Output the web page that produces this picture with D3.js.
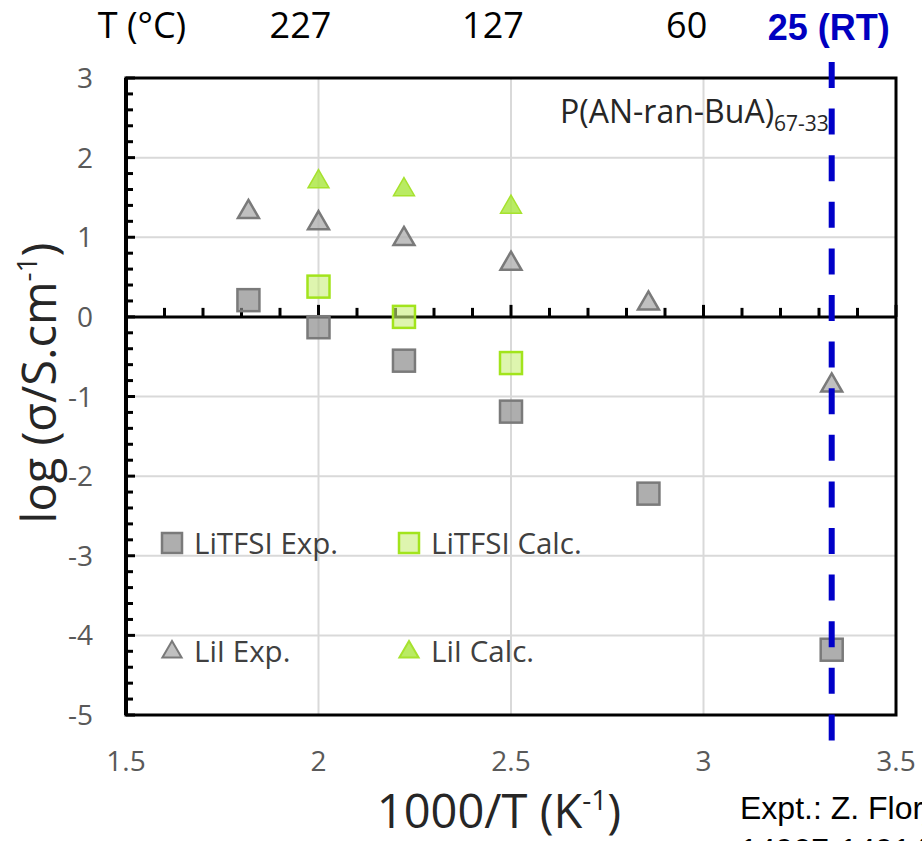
<!DOCTYPE html>
<html>
<head>
<meta charset="utf-8">
<script src="https://cdn.jsdelivr.net/npm/d3@7"></script>
<style>
  html, body { margin: 0; padding: 0; background: #fff; }
  svg { display: block; }
</style>
</head>
<body>
<script>
// ---------- data ----------
const invT = [1.818, 2.0, 2.222, 2.5, 2.857, 3.333];
const litfsiExp = [0.21, -0.13, -0.55, -1.19, -2.22, -4.18];
const litfsiCalcX = [2.0, 2.222, 2.5];
const litfsiCalc = [0.38, 0.0, -0.58];
const liiExp = [1.33, 1.19, 0.99, 0.68, 0.18, -0.85];
const liiCalcX = [2.0, 2.222, 2.5];
const liiCalc = [1.71, 1.61, 1.39];
const xTicks = [1.5, 2, 2.5, 3, 3.5];
const yTicks = [3, 2, 1, 0, -1, -2, -3, -4, -5];
const tempLabels = [227, 127, 60];
const rtInvT = 3.333;

const W = 922, H = 841;
const svg = d3.select("body").append("svg").attr("width", W).attr("height", H);

const x = d3.scaleLinear().domain([1.5, 3.5]).range([126, 896]);
const y = d3.scaleLinear().domain([-5, 3]).range([715, 78]);
const tickFont = "'Open Sans', sans-serif";

// gridlines
svg.append("g").selectAll("line").data(yTicks.filter(v => v !== 0 && v !== 3 && v !== -5))
  .join("line")
  .attr("x1", x(1.5)).attr("x2", x(3.5))
  .attr("y1", d => y(d)).attr("y2", d => y(d))
  .attr("stroke", "#d9d9d9").attr("stroke-width", 2);
svg.append("g").selectAll("line").data([2, 2.5, 3])
  .join("line")
  .attr("x1", d => x(d)).attr("x2", d => x(d))
  .attr("y1", y(3)).attr("y2", y(-5))
  .attr("stroke", "#d9d9d9").attr("stroke-width", 2);

// frame
svg.append("rect")
  .attr("x", x(1.5)).attr("y", y(3))
  .attr("width", x(3.5) - x(1.5)).attr("height", y(-5) - y(3))
  .attr("fill", "none").attr("stroke", "#000").attr("stroke-width", 3);

// y axis (left, inside ticks)
const yMinor = d3.range(-5, 3.001, 0.2).map(v => Math.round(v * 10) / 10);
svg.append("g").selectAll("line").data(yMinor).join("line")
  .attr("x1", x(1.5)).attr("x2", d => x(1.5) + (Number.isInteger(d) ? 9 : 7))
  .attr("y1", d => y(d)).attr("y2", d => y(d))
  .attr("stroke", "#000").attr("stroke-width", 3);
svg.append("line").attr("x1", x(1.5)).attr("x2", x(1.5)).attr("y1", y(3)).attr("y2", y(-5))
  .attr("stroke", "#000").attr("stroke-width", 4);

// x axis at y = 0
const xMinor = d3.range(1.5, 3.501, 0.1).map(v => Math.round(v * 10) / 10);
svg.append("g").selectAll("line").data(xMinor).join("line")
  .attr("x1", d => x(d)).attr("x2", d => x(d))
  .attr("y1", y(0)).attr("y2", d => y(0) - ((Math.round(d * 10) % 5 === 0) ? 12 : 9))
  .attr("stroke", "#000").attr("stroke-width", 3);
svg.append("line").attr("x1", x(1.5)).attr("x2", x(3.5)).attr("y1", y(0)).attr("y2", y(0))
  .attr("stroke", "#000").attr("stroke-width", 3);

// tick labels
svg.append("g").selectAll("text").data(yTicks).join("text")
  .attr("x", 93).attr("y", d => y(d) + 10)
  .attr("text-anchor", "end").attr("font-family", tickFont).attr("font-size", 28)
  .attr("fill", "#595959").text(d => d);
svg.append("g").selectAll("text").data(xTicks).join("text")
  .attr("x", d => x(d)).attr("y", 771)
  .attr("text-anchor", "middle").attr("font-family", tickFont).attr("font-size", 28)
  .attr("fill", "#595959").text(d => d);

// axis titles
const xt = svg.append("text").attr("x", 499).attr("y", 828).attr("text-anchor", "middle")
  .attr("font-family", tickFont).attr("font-size", 47).attr("fill", "#262626");
xt.append("tspan").text("1000/T (K");
xt.append("tspan").attr("font-size", 28).attr("dy", -18).text("-1");
xt.append("tspan").attr("dy", 18).text(")");

const yt = svg.append("text").attr("transform", "translate(56,383) rotate(-90)")
  .attr("text-anchor", "middle").attr("font-family", tickFont).attr("font-size", 47).attr("fill", "#262626");
yt.append("tspan").text("log (σ/S.cm");
yt.append("tspan").attr("font-size", 28).attr("dy", -19).text("-1");
yt.append("tspan").attr("dy", 19).text(")");

// top temperature labels
svg.append("text").attr("x", 142).attr("y", 38).attr("text-anchor", "middle")
  .attr("font-family", tickFont).attr("font-size", 36).attr("fill", "#000").text("T (°C)");
svg.append("g").selectAll("text").data(tempLabels).join("text")
  .attr("x", d => x(1000 / (d + 273)) - 18).attr("y", 38).attr("text-anchor", "middle")
  .attr("font-family", tickFont).attr("font-size", 36).attr("fill", "#000").text(d => d);
svg.append("text").attr("x", x(rtInvT) - 3).attr("y", 40).attr("text-anchor", "middle")
  .attr("font-family", "'Liberation Sans', Arial, sans-serif").attr("font-weight", "bold")
  .attr("font-size", 36).attr("fill", "#0000c0").text("25 (RT)");

// polymer annotation
const pa = svg.append("text").attr("x", 560).attr("y", 123)
  .attr("font-family", tickFont).attr("font-size", 32).attr("fill", "#262626");
pa.append("tspan").text("P(AN-ran-BuA)");
pa.append("tspan").attr("font-size", 21).attr("dy", 8).text("67-33");

// bottom reference note
svg.append("text").attr("x", 740).attr("y", 819)
  .attr("font-family", "'Liberation Sans', Arial, sans-serif").attr("font-size", 32).attr("fill", "#000")
  .text("Expt.: Z. Florjańczyk et al.,");
svg.append("text").attr("x", 740).attr("y", 861)
  .attr("font-family", "'Liberation Sans', Arial, sans-serif").attr("font-size", 32).attr("fill", "#000")
  .text("14907-14914");

// markers
const S = 22;
function squares(xs, ys, fill, fillOp, stroke) {
  svg.append("g").selectAll("rect").data(xs.map((d, i) => [d, ys[i]])).join("rect")
    .attr("x", d => x(d[0]) - S / 2).attr("y", d => y(d[1]) - S / 2)
    .attr("width", S).attr("height", S)
    .attr("fill", fill).attr("fill-opacity", fillOp)
    .attr("stroke", stroke).attr("stroke-width", 2.5);
}
const tri = d3.symbol().type(d3.symbolTriangle).size(190);
function triangles(xs, ys, fill, fillOp, stroke, sw) {
  svg.append("g").selectAll("path").data(xs.map((d, i) => [d, ys[i]])).join("path")
    .attr("d", tri)
    .attr("transform", d => `translate(${x(d[0])},${y(d[1]) + 1})`)
    .attr("fill", fill).attr("fill-opacity", fillOp)
    .attr("stroke", stroke).attr("stroke-width", sw).attr("stroke-linejoin", "miter");
}
squares(invT, litfsiExp, "#8c8c8c", 0.7, "#7a7a7a");
squares(litfsiCalcX, litfsiCalc, "#c8ef7a", 0.6, "#a2e41c");
triangles(invT, liiExp, "#b0b0b0", 0.8, "#7a7a7a", 2.5);
triangles(liiCalcX, liiCalc, "#a8e63c", 0.8, "#a6e22e", 1.5);

// legend
const lg = svg.append("g").attr("font-family", tickFont).attr("font-size", 29.5).attr("fill", "#404040");
const legItems = [
  {lx: 162, ly: 543, kind: "sq", fill: "#8c8c8c", op: 0.7, stroke: "#7a7a7a", label: "LiTFSI Exp."},
  {lx: 399, ly: 543, kind: "sq", fill: "#c8ef7a", op: 0.6, stroke: "#a2e41c", label: "LiTFSI Calc."},
  {lx: 162, ly: 651, kind: "tri", fill: "#b0b0b0", op: 0.8, stroke: "#7a7a7a", label: "LiI Exp."},
  {lx: 399, ly: 651, kind: "tri", fill: "#a8e63c", op: 0.8, stroke: "#a6e22e", label: "LiI Calc."}
];
legItems.forEach(it => {
  if (it.kind === "sq") {
    lg.append("rect").attr("x", it.lx).attr("y", it.ly - 10).attr("width", 20).attr("height", 20)
      .attr("fill", it.fill).attr("fill-opacity", it.op).attr("stroke", it.stroke).attr("stroke-width", 2.5);
  } else {
    lg.append("path").attr("d", d3.symbol().type(d3.symbolTriangle).size(160))
      .attr("transform", `translate(${it.lx + 10},${it.ly + 1})`)
      .attr("fill", it.fill).attr("fill-opacity", it.op).attr("stroke", it.stroke).attr("stroke-width", 2);
  }
  lg.append("text").attr("x", it.lx + 32).attr("y", it.ly + 11).text(it.label);
});

// RT dashed line
svg.append("line").attr("x1", x(rtInvT)).attr("x2", x(rtInvT)).attr("y1", 62).attr("y2", 742)
  .attr("stroke", "#0000c8").attr("stroke-width", 6).attr("stroke-dasharray", "26,20.6");
</script>
</body>
</html>
